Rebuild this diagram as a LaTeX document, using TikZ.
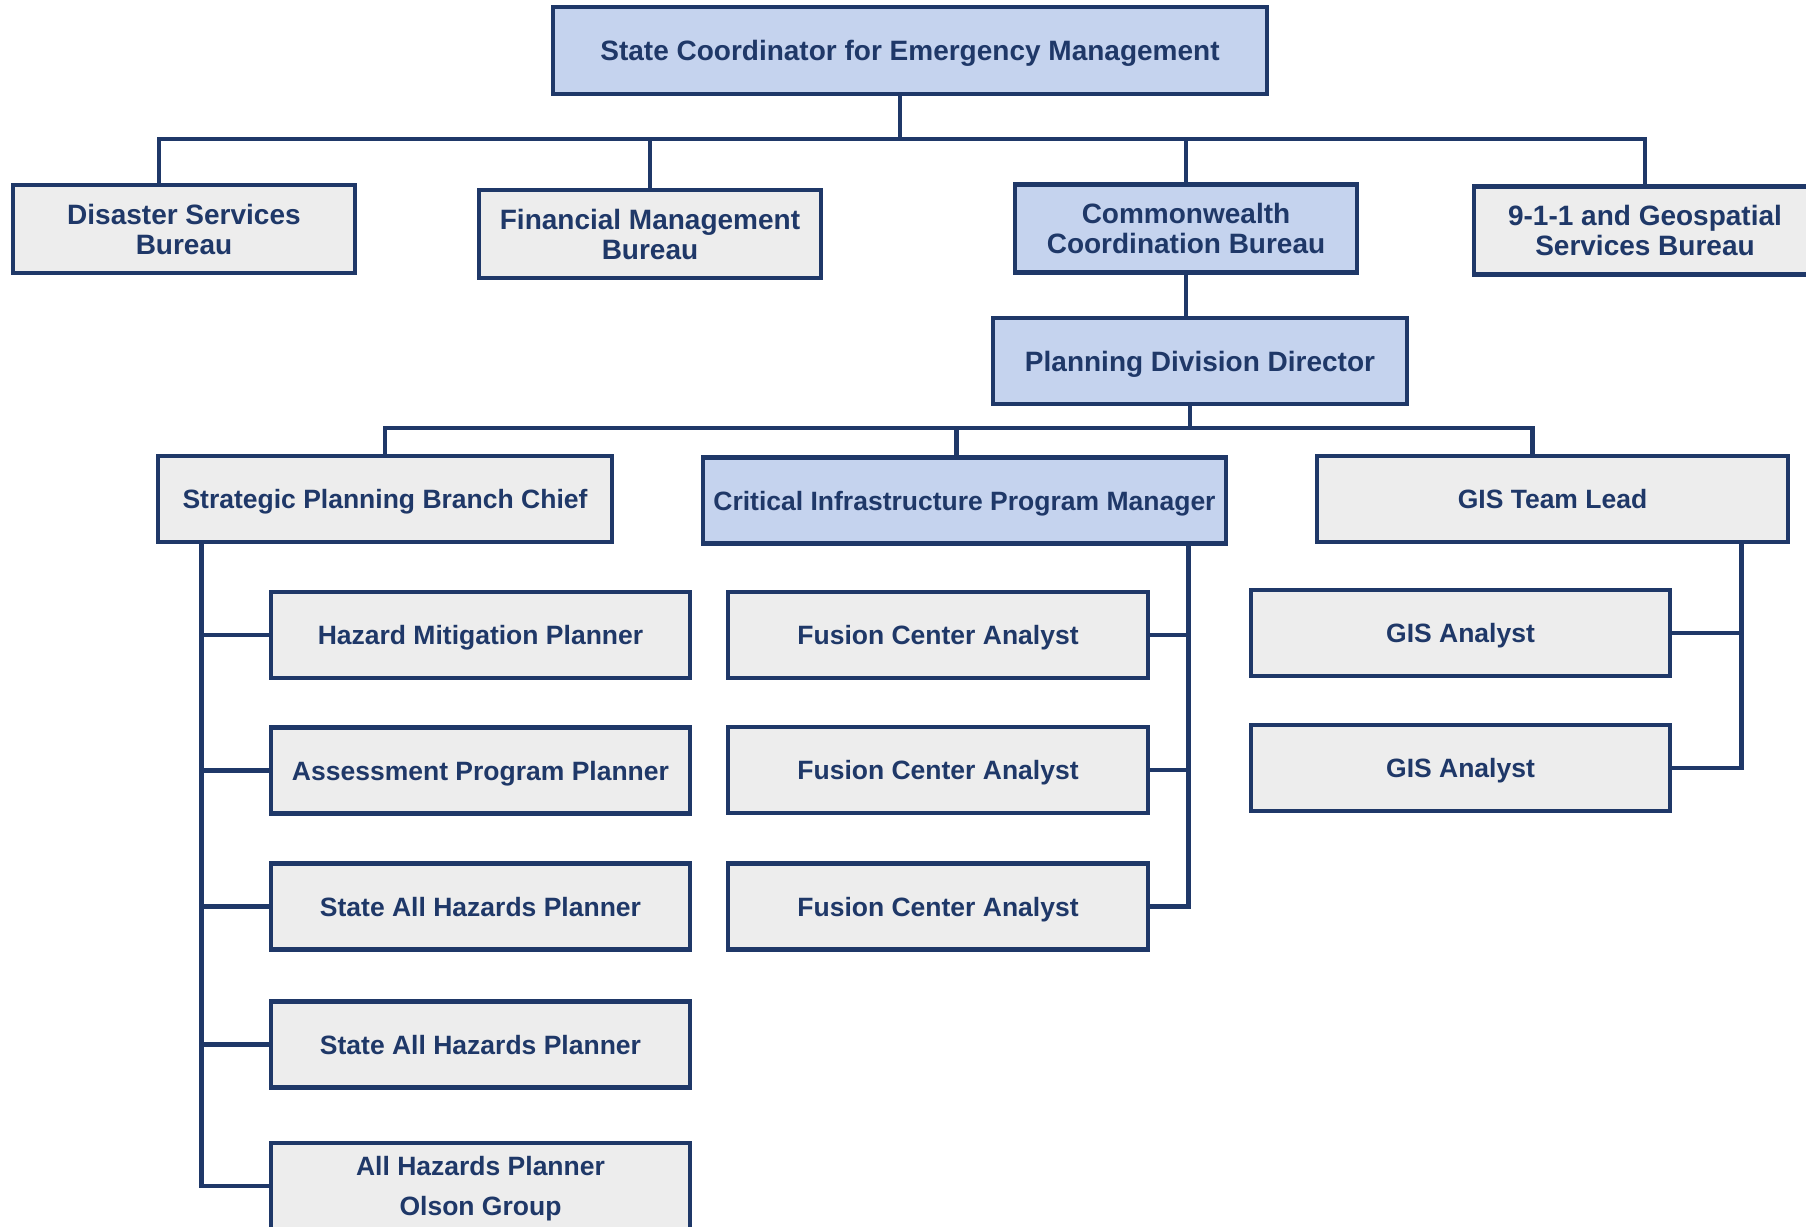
\documentclass[tikz,border=0pt]{standalone}
\usepackage{fontspec}
\setmainfont{Liberation Sans}

\definecolor{navy}{RGB}{31,56,104}
\definecolor{boxgray}{RGB}{237,237,237}
\definecolor{boxblue}{RGB}{197,211,238}

\tikzset{
    post/.style={draw=navy, line width=2.4pt, fill=boxgray, text=navy, align=center,
        inner sep=0pt, text depth=0pt, minimum height=43pt, font=\bfseries\fontsize{13.25}{16}\selectfont},
    bureau/.style={post, minimum width=171pt, minimum height=44pt, font=\bfseries\fontsize{14}{15}\selectfont},
    staff/.style={post, minimum width=209.5pt},
    keypost/.style={fill=boxblue},
    link/.style={draw=navy, line width=2.4pt}
}

\begin{document}
\begin{tikzpicture}[x=0.5pt, y=-0.5pt]
    \useasboundingbox (0,0) rectangle (1806,1227);

    \node [bureau, keypost, minimum width=357pt, minimum height=43.5pt] (sc) at (910,50.5) {State Coordinator for Emergency Management};
    \node [bureau] (dsb) at (184,229) {Disaster Services\\Bureau};
    \node [bureau] (fmb) at (650,234) {Financial Management\\Bureau};
    \node [bureau, keypost] (ccb) at (1186,228.5) {Commonwealth\\Coordination Bureau};
    \node [bureau] (gsb) at (1645,230.5) {9-1-1 and Geospatial\\Services Bureau};
    \node [bureau, keypost, minimum width=207pt, minimum height=43pt] (pdd) at (1200,361) {Planning Division Director};

    \node [post, minimum width=227pt] (spb) at (385,499) {Strategic Planning Branch Chief};
    \node [post, keypost, minimum width=261.5pt] (cip) at (964.5,500.5) {Critical Infrastructure Program Manager};
    \node [post, minimum width=235.5pt] (gtl) at (1552.5,499) {GIS Team Lead};

    \node [staff] (hmp) at (480.5,635) {Hazard Mitigation Planner};
    \node [staff] (apl) at (480.5,770.5) {Assessment Program Planner};
    \node [staff] (sah1) at (480.5,906.5) {State All Hazards Planner};
    \node [staff] (sah2) at (480.5,1044.5) {State All Hazards Planner};
    \node [staff, font=\bfseries\fontsize{13.25}{20}\selectfont] (ahp) at (480.5,1186) {All Hazards Planner\\Olson Group};

    \foreach \y [count=\i] in {635,770,906.5}
        \node [staff, minimum width=210pt] (fca\i) at (938,\y) {Fusion Center Analyst};
    \foreach \y [count=\i] in {633,768}
        \node [staff] (gis\i) at (1460.5,\y) {GIS Analyst};

    \coordinate (bus1) at (900,139);
    \draw [link] (bus1 |- sc.south) -- (bus1);
    \draw [link] ([xshift=-12.5pt]dsb.north) |- (bus1) -| (gsb.north);
    \draw [link] (fmb.north) -- (fmb.north |- bus1);
    \draw [link] (ccb.north) -- (ccb.north |- bus1);
    \draw [link] (ccb.south) -- (ccb.south |- pdd.north);

    \coordinate (bus2) at (1190,428);
    \draw [link] (bus2 |- pdd.south) -- (bus2);
    \draw [link] (spb.north) |- (bus2) -| ([xshift=-10pt]gtl.north);
    \draw [link] ([xshift=-4pt]cip.north) -- ([xshift=-4pt]cip.north |- bus2);

    \coordinate (spine1) at ([xshift=23pt]spb.south west);
    \draw [link] (spine1) |- (ahp.west);
    \foreach \n in {hmp,apl,sah1,sah2}
        \draw [link] (\n.west) -- (\n.west -| spine1);

    \coordinate (spine2) at ([xshift=-20pt]cip.south east);
    \draw [link] (spine2) |- (fca3.east);
    \foreach \n in {fca1,fca2}
        \draw [link] (\n.east) -- (\n.east -| spine2);

    \coordinate (spine3) at ([xshift=-24.5pt]gtl.south east);
    \draw [link] (spine3) |- (gis2.east);
    \draw [link] (gis1.east) -- (gis1.east -| spine3);

\end{tikzpicture}
\end{document}
